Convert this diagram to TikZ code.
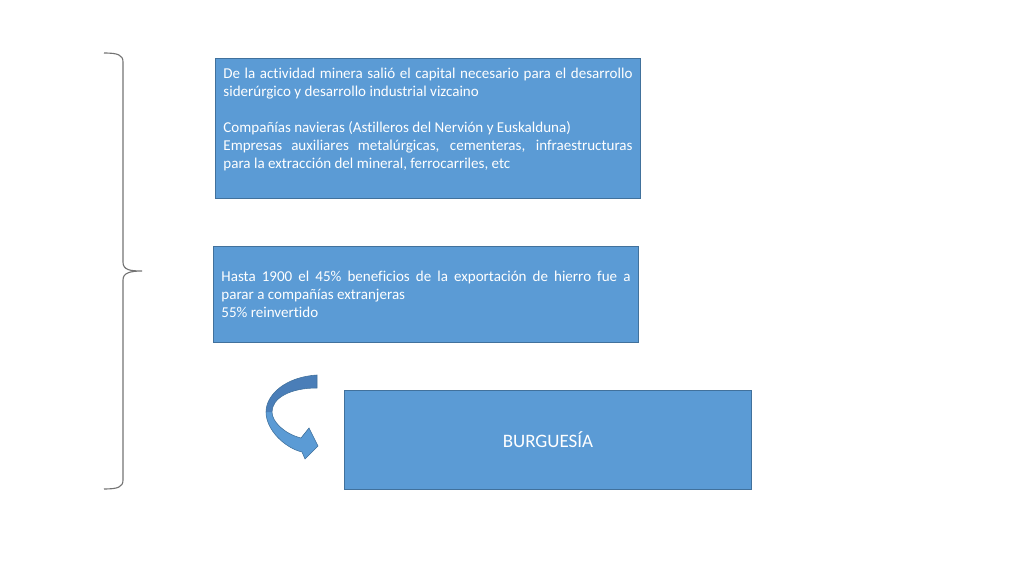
\documentclass[tikz,border=0pt]{standalone}
\usepackage{fontspec}
\setmainfont{Carlito}[Ligatures=NoCommon]
\usetikzlibrary{calc, math, arrows.meta}
\definecolor{boxfill}{HTML}{5B9BD5}
\definecolor{boxline}{HTML}{41719C}
\definecolor{arrowdark}{HTML}{4A7EB8}
\newcommand{\nosqueeze}{\hyphenpenalty=10000\spaceskip=\fontdimen2\font plus 2\fontdimen3\font minus 0pt\leftskip=0.2cm\rightskip=0.2cm}
\begin{document}
\begin{tikzpicture}[x=0.025cm, y=-0.025cm,
        blok/.style={draw=boxline, fill=boxfill, text=white, line width=0.6pt, inner sep=0pt, anchor=north west, font=\fontsize{10.7}{12.9}\selectfont},
        brace/.style={draw=gray!90!black, line width=0.8pt}]
    \useasboundingbox (0,0) rectangle (1024,576);
    % cajas
    \node[blok] (mineria) at (215,58) {\parbox[c][3.5cm][t]{10.625cm}{\nosqueeze\vspace{0.23cm}%
        De la actividad minera salió el capital necesario para el desarrollo siderúrgico y desarrollo industrial vizcaino\par
        \vspace{\baselineskip}
        Compañías navieras (Astilleros del Nervión y Euskalduna)\par
        Empresas auxiliares metalúrgicas, cementeras, infraestructuras para la extracción del mineral, ferrocarriles, etc}};
    \node[blok] (exporta) at (213,246) {\parbox[c][2.4cm][c]{10.625cm}{\nosqueeze
        Hasta 1900 el 45\% beneficios de la exportación de hierro fue a parar a compañías extranjeras\par
        55\% reinvertido}};
    \node[blok, minimum width=10.175cm, minimum height=2.475cm, font=\fontsize{13.5}{16}\selectfont] (burguesia) at (344,390) {BURGUESÍA};
    % flecha curva
    \fill[boxfill] (266,412) .. controls (266,430) and (285,448) .. (302,452) -- (305,459) -- (318,446) -- (309,428)
        -- (301,438) .. controls (285,434) and (272,422) .. (272,412) -- cycle;
    \fill[arrowdark] (317,375) .. controls (285,377) and (266,395) .. (266,412) -- (272,412)
        .. controls (272,398) and (290,388) .. (317,388) -- cycle;
    \draw[boxline, line width=0.4pt] (317,375) .. controls (285,377) and (266,395) .. (266,412)
        .. controls (266,430) and (285,448) .. (302,452) -- (305,459) -- (318,446) -- (309,428)
        -- (301,438) .. controls (285,434) and (272,422) .. (272,412)
        .. controls (272,398) and (290,388) .. (317,388) -- cycle;
    % llave
    \draw[brace] (104,53) .. controls (118,53) and (123,55) .. (123,62) -- (123,262)
        .. controls (123,270) and (130,271) .. (142,271) .. controls (130,271) and (123,273) .. (123,280)
        -- (123,480) .. controls (123,487) and (118,489) .. (104,489);
\end{tikzpicture}
\end{document}
